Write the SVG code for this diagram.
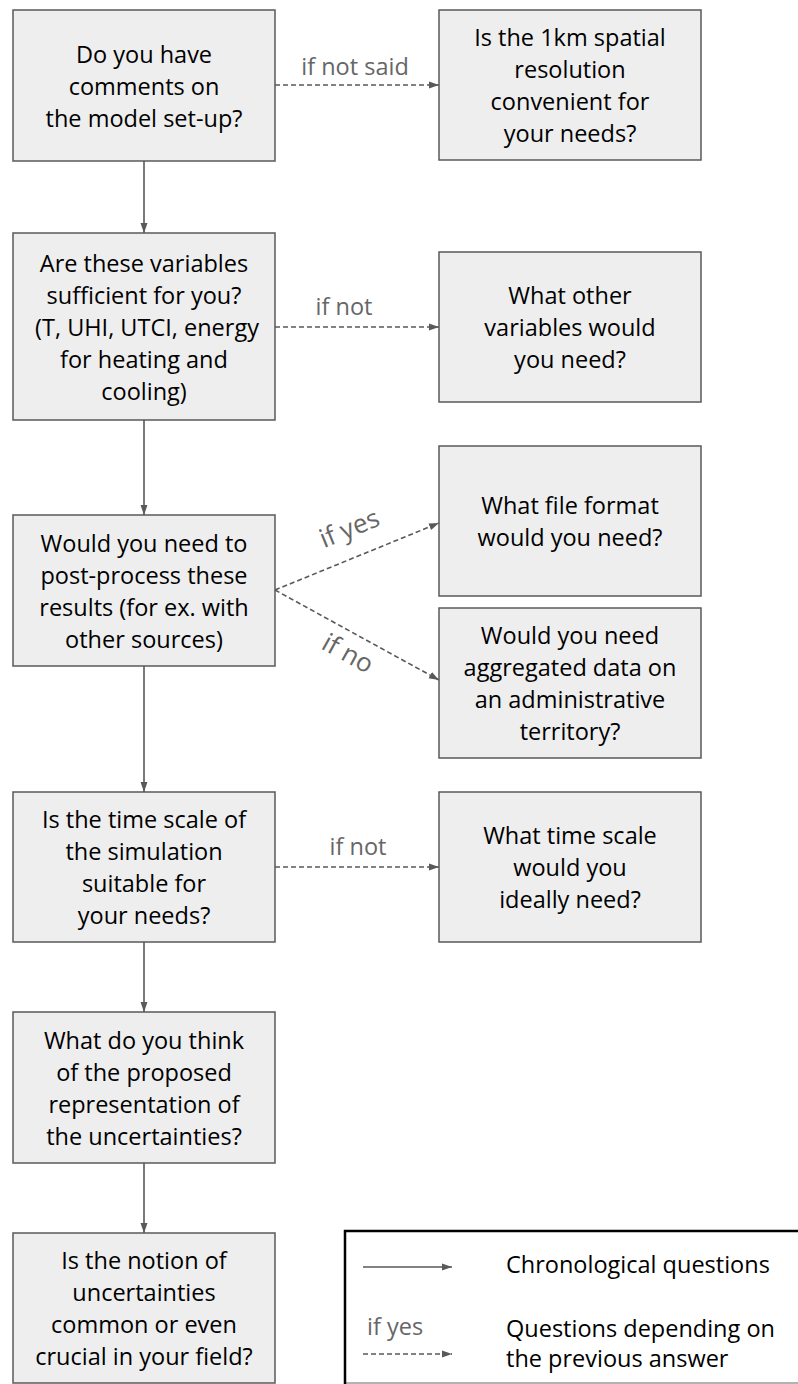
<svg xmlns="http://www.w3.org/2000/svg" width="798" height="1384" viewBox="0 0 798 1384">
<defs>
<marker id="ah" markerWidth="10" markerHeight="8" refX="10" refY="4" orient="auto" markerUnits="userSpaceOnUse">
<path d="M0,0.5 L10,4 L0,7.5 Z" fill="#595959"/>
</marker>
<style>
.box{fill:#eeeeee;stroke:#595959;stroke-width:1.5}
.t{font-family:"Open Sans","Liberation Sans",sans-serif;font-size:23.5px;fill:#000;text-anchor:middle}
.lbl{font-family:"Open Sans","Liberation Sans",sans-serif;font-size:23.5px;fill:#666666;text-anchor:middle}
.dl{font-size:26px}
.solid{stroke:#595959;stroke-width:1.6;fill:none;marker-end:url(#ah)}
.dash{stroke:#595959;stroke-width:1.6;fill:none;stroke-dasharray:5,3;marker-end:url(#ah)}
</style>
</defs>
<rect width="798" height="1384" fill="#ffffff"/>

<g id="connectors">
<line class="solid" x1="144" y1="161" x2="144" y2="233"/>
<line class="solid" x1="144" y1="420" x2="144" y2="515"/>
<line class="solid" x1="144" y1="666" x2="144" y2="792"/>
<line class="solid" x1="144" y1="942" x2="144" y2="1012"/>
<line class="solid" x1="144" y1="1163" x2="144" y2="1233"/>
<line class="dash" x1="275" y1="85" x2="439" y2="85"/>
<line class="dash" x1="275" y1="327" x2="439" y2="327"/>
<line class="dash" x1="275" y1="590" x2="439" y2="523"/>
<line class="dash" x1="275" y1="590" x2="439" y2="680"/>
<line class="dash" x1="275" y1="867" x2="439" y2="867"/>
<text class="lbl" x="355" y="75">if not said</text>
<text class="lbl" x="344" y="315">if not</text>
<text class="lbl dl" x="350" y="537" transform="rotate(-22.2 350 530)">if yes</text>
<text class="lbl dl" x="347" y="662" transform="rotate(28.8 347 655)">if no</text>
<text class="lbl" x="358" y="855">if not</text>
</g>

<g id="n1">
<rect class="box" x="13" y="10" width="262" height="151"/>
<text class="t"><tspan x="144" y="62.5">Do you have</tspan><tspan x="144" y="94.5">comments on</tspan><tspan x="144" y="126.5">the model set-up?</tspan></text>
</g>
<g id="n1b">
<rect class="box" x="439" y="10" width="262" height="150"/>
<text class="t"><tspan x="570" y="46">Is the 1km spatial</tspan><tspan x="570" y="78">resolution</tspan><tspan x="570" y="110">convenient for</tspan><tspan x="570" y="142">your needs?</tspan></text>
</g>
<g id="n2">
<rect class="box" x="13" y="233" width="262" height="187"/>
<text class="t"><tspan x="144" y="271.5">Are these variables</tspan><tspan x="144" y="303.5">sufficient for you?</tspan><tspan x="147" y="335.5">(T, UHI, UTCI, energy</tspan><tspan x="144" y="367.5">for heating and</tspan><tspan x="144" y="399.5">cooling)</tspan></text>
</g>
<g id="n2b">
<rect class="box" x="439" y="252" width="262" height="150"/>
<text class="t"><tspan x="570" y="304">What other</tspan><tspan x="570" y="336">variables would</tspan><tspan x="570" y="368">you need?</tspan></text>
</g>
<g id="n3">
<rect class="box" x="13" y="515" width="262" height="151"/>
<text class="t"><tspan x="144" y="551.5">Would you need to</tspan><tspan x="144" y="583.5">post-process these</tspan><tspan x="144" y="615.5">results (for ex. with</tspan><tspan x="144" y="647.5">other sources)</tspan></text>
</g>
<g id="n3a">
<rect class="box" x="439" y="446" width="262" height="150"/>
<text class="t"><tspan x="570" y="514">What file format</tspan><tspan x="570" y="546">would you need?</tspan></text>
</g>
<g id="n3b">
<rect class="box" x="439" y="608" width="262" height="150"/>
<text class="t"><tspan x="570" y="644">Would you need</tspan><tspan x="570" y="676">aggregated data on</tspan><tspan x="570" y="708">an administrative</tspan><tspan x="570" y="740">territory?</tspan></text>
</g>
<g id="n4">
<rect class="box" x="13" y="792" width="262" height="150"/>
<text class="t"><tspan x="144" y="828">Is the time scale of</tspan><tspan x="144" y="860">the simulation</tspan><tspan x="144" y="892">suitable for</tspan><tspan x="144" y="924">your needs?</tspan></text>
</g>
<g id="n4b">
<rect class="box" x="439" y="792" width="262" height="150"/>
<text class="t"><tspan x="570" y="844">What time scale</tspan><tspan x="570" y="876">would you</tspan><tspan x="570" y="908">ideally need?</tspan></text>
</g>
<g id="n5">
<rect class="box" x="13" y="1012" width="262" height="151"/>
<text class="t"><tspan x="144" y="1048.5">What do you think</tspan><tspan x="144" y="1080.5">of the proposed</tspan><tspan x="144" y="1112.5">representation of</tspan><tspan x="144" y="1144.5">the uncertainties?</tspan></text>
</g>
<g id="n6">
<rect class="box" x="13" y="1233" width="262" height="150"/>
<text class="t"><tspan x="144" y="1269">Is the notion of</tspan><tspan x="144" y="1301">uncertainties</tspan><tspan x="144" y="1333">common or even</tspan><tspan x="144" y="1365">crucial in your field?</tspan></text>
</g>

<g id="legend">
<line x1="344" y1="1383" x2="798" y2="1383" stroke="#999999" stroke-width="1.5"/>
<path d="M345,1384 L345,1231 L798,1231" fill="none" stroke="#000000" stroke-width="2.5"/>
<line class="solid" x1="363" y1="1267" x2="452" y2="1267"/>
<text class="t" x="506" y="1273" style="text-anchor:start">Chronological questions</text>
<text class="lbl" x="367" y="1335" style="text-anchor:start">if yes</text>
<line class="dash" x1="363" y1="1354" x2="452" y2="1354"/>
<text class="t" style="text-anchor:start"><tspan x="506" y="1337">Questions depending on</tspan><tspan x="506" y="1367">the previous answer</tspan></text>
</g>
</svg>
